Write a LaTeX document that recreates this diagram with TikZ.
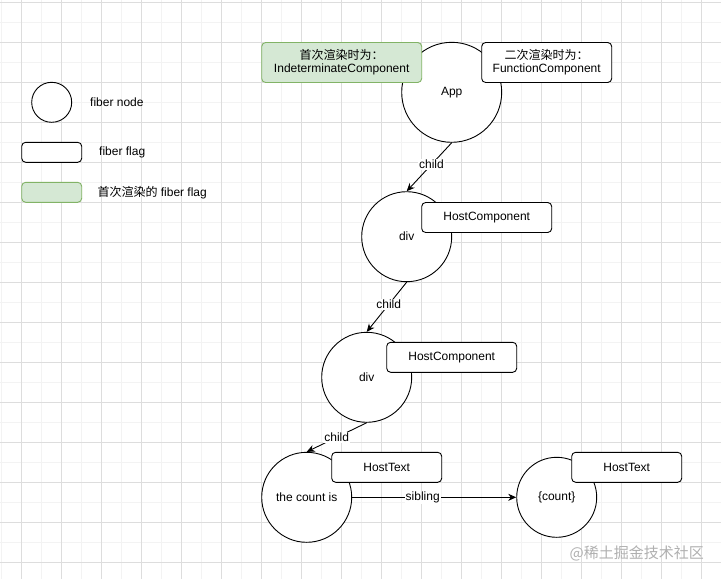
\documentclass[tikz,border=0pt]{standalone}
\usepackage{fontspec}
\setmainfont{Liberation Sans}
\newfontfamily\cjk{Noto Sans CJK SC}
\usetikzlibrary{arrows.meta}
\definecolor{gridmaj}{HTML}{DDDDDD}
\definecolor{gridmin}{HTML}{F3F3F3}
\definecolor{flaggreen}{HTML}{D5E8D4}
\definecolor{flaggreenb}{HTML}{82B366}
\definecolor{wmark}{HTML}{B0B0B0}
\tikzset{
  fnode/.style={draw, circle, inner sep=0pt, line width=0.9pt, fill=white, font=\fontsize{12}{14}\selectfont},
  fflag/.style={draw, rounded corners=4pt, inner sep=0pt, line width=0.9pt, fill=white, align=center, font=\fontsize{12}{14}\selectfont},
  gflag/.style={fflag, fill=flaggreen, draw=flaggreenb},
  lbl/.style={font=\fontsize{12}{14}\selectfont, anchor=west, inner sep=0pt},
  conn/.style={line width=0.9pt, -{Stealth[length=8pt,width=7pt,inset=2.5pt]}},
  elbl/.style={fill=white, inner sep=1pt, font=\fontsize{12}{14}\selectfont},
}
\begin{document}
\begin{tikzpicture}[x=1pt,y=-1pt]
\useasboundingbox (0,0) rectangle (721,579);
\fill[white] (0,0) rectangle (721,579);
% grid
\foreach \x in {1.7,41.7,...,721} \draw[gridmin, line width=0.6pt] (\x,0) -- (\x,579);
\foreach \y in {22.3,62.3,...,579} \draw[gridmin, line width=0.6pt] (0,\y) -- (721,\y);
\foreach \x in {21.7,61.7,...,721} \draw[gridmaj, line width=0.8pt] (\x,0) -- (\x,579);
\foreach \y in {2.3,42.3,...,579} \draw[gridmaj, line width=0.8pt] (0,\y) -- (721,\y);

% legend
\node[fnode, minimum size=40pt] (legnode) at (51.7,102.3) {};
\node[lbl] (legnodet) at (90,102.3) {fiber node};
\node[fflag, minimum width=60pt, minimum height=20pt] (legflag) at (51.7,152.3) {};
\node[lbl] (legflagt) at (99,152.3) {fiber flag};
\node[gflag, minimum width=60pt, minimum height=20pt] (leggflag) at (51.7,192.3) {};
\node[lbl] (leggflagt) at (97.3,192.3) {{\cjk 首次渲染的} fiber flag};

% fiber nodes
\node[fnode, minimum size=100pt] (app) at (451.7,92.3) {App};
\node[fnode, minimum size=90pt] (div1) at (406.7,236.7) {div};
\node[fnode, minimum size=90pt] (div2) at (366.7,377.3) {div};
\node[fnode, minimum size=90pt] (txt) at (306.7,497.3) {the count is};
\node[fnode, minimum size=80pt] (cnt) at (556.7,497.3) {\{count\}};

% flags
\node[gflag, minimum width=160pt, minimum height=40pt] (appfirst) at (341.7,62.5) {{\cjk 首次渲染时为：}\\[-1pt]IndeterminateComponent};
\node[fflag, minimum width=130pt, minimum height=40pt] (appsecond) at (546.7,62.5) {{\cjk 二次渲染时为：}\\[-1pt]FunctionComponent};
\node[fflag, minimum width=130pt, minimum height=30pt] (div1flag) at (486.7,217.5) {HostComponent};
\node[fflag, minimum width=130pt, minimum height=30pt] (div2flag) at (451.7,357.3) {HostComponent};
\node[fflag, minimum width=110pt, minimum height=30pt] (txtflag) at (386.7,467.3) {HostText};
\node[fflag, minimum width=110pt, minimum height=30pt] (cntflag) at (626.7,467.3) {HostText};

% connectors
\draw[conn] (app.south) -- node[elbl, pos=0.45] {child} (div1.north);
\draw[conn] (div1.south) -- node[elbl, pos=0.45] {child} (div2.north);
\draw[conn] (div2.south) -- node[elbl, pos=0.5] {child} (txt.north);
\draw[conn] (txt.east) -- node[elbl, pos=0.43] {sibling} (cnt.west);

% watermark
\node[font=\cjk\fontsize{15}{17}\selectfont, text=wmark, inner sep=0pt] (wm) at (636.7,553.3) {@稀土掘金技术社区};
\end{tikzpicture}
\end{document}
